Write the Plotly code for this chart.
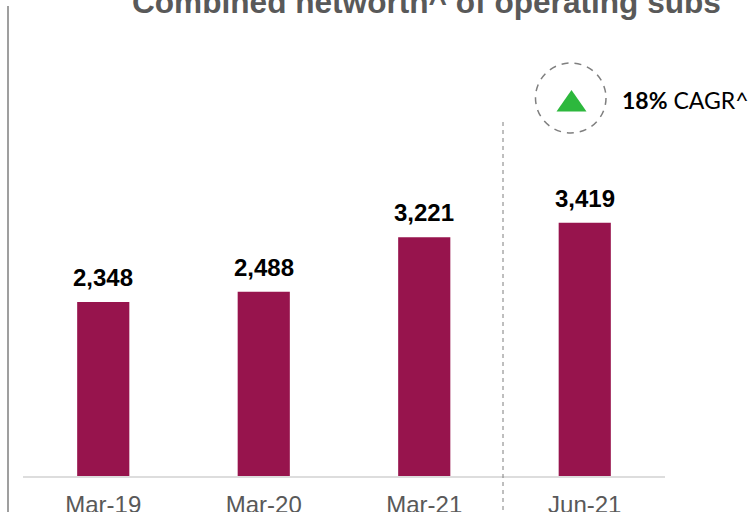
import plotly.graph_objects as go

categories = ["Mar-19", "Mar-20", "Mar-21", "Jun-21"]
values = [2348, 2488, 3221, 3419]
labels = ["2,348", "2,488", "3,221", "3,419"]

W, H = 755, 512
L, R, T, B = 23, 90, 0, 36
pw, ph = W - L - R, H - T - B
def px(x): return (x - L) / pw
def py(y): return 1 - (y - T) / ph

fig = go.Figure(go.Bar(
    x=categories, y=values, width=0.325, marker=dict(color="#97144D", line=dict(width=0)),
    hoverinfo="skip"))

grey = "#7F7F7F"
shapes = [
    dict(type="line", xref="paper", yref="paper", x0=px(8), x1=px(8), y0=py(6), y1=py(512), line=dict(color=grey, width=1.5)),
    dict(type="line", xref="paper", yref="paper", x0=px(503), x1=px(503), y0=py(122), y1=py(512), line=dict(color=grey, width=1, dash="4px,4px")),
    dict(type="circle", xref="paper", yref="paper", x0=px(535.5), x1=px(606), y0=py(133), y1=py(63), line=dict(color=grey, width=1.5, dash="7px,6px")),
    dict(type="path", xref="paper", yref="paper",
         path=f"M {px(556.5)} {py(111.5)} L {px(571.5)} {py(90)} L {px(586.5)} {py(111.5)} Z",
         fillcolor="#2DB83D", line=dict(width=0)),
]
annotations = [
    dict(xref="paper", yref="paper", x=px(426), y=py(2), text="<b>Combined networth^ of operating subs</b>", showarrow=False,
         xanchor="center", yanchor="middle", font=dict(family="Liberation Sans", size=31.6, color="#595959")),
    dict(xref="paper", yref="paper", x=px(622), y=py(100), text="<b>18%</b> CAGR^", showarrow=False,
         xanchor="left", yanchor="middle", xshift=-2, font=dict(family="Lato", size=23, color="#000000")),
]
for c, v, t in zip(categories, values, labels):
    annotations.append(dict(x=c, y=v, xref="x", yref="y", text=f"<b>{t}</b>", showarrow=False,
                            yanchor="bottom", yshift=9,
                            font=dict(family="Liberation Sans", size=24, color="#000000")))
fig.update_layout(
    width=W, height=H, margin=dict(l=L, r=R, t=T, b=B, pad=0),
    paper_bgcolor="white", plot_bgcolor="white", showlegend=False,
    shapes=shapes, annotations=annotations,
    xaxis=dict(type="category", showgrid=False, ticks="", showline=True, linecolor="#DDDDDD", linewidth=2,
               ticklabelstandoff=6,
               tickfont=dict(family="Liberation Sans", size=24, color="#595959"), automargin=False),
    yaxis=dict(range=[0, 6424], visible=False, showgrid=False),
)
fig.write_html("out.html", config=dict(displayModeBar=False),
               post_script="document.body.style.margin='0';document.documentElement.style.overflow='hidden';")
